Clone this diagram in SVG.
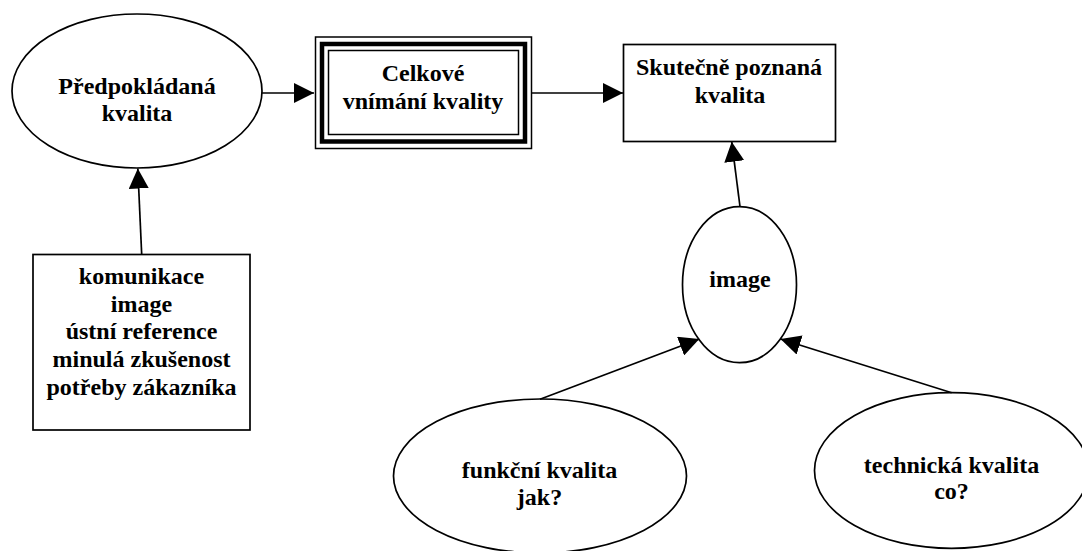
<svg xmlns="http://www.w3.org/2000/svg" width="1082" height="551" viewBox="0 0 1082 551">
<style>
.sh{fill:#fff;stroke:#000;stroke-width:1.7}
.t{font-family:"Liberation Serif","Times New Roman",serif;font-weight:bold;font-size:24px;fill:#000;text-anchor:middle}
.c{stroke:#000;stroke-width:1.7;fill:none;marker-end:url(#ah)}
</style>
<defs>
<marker id="ah" markerUnits="userSpaceOnUse" markerWidth="20" markerHeight="20" refX="20" refY="10" orient="auto" viewBox="0 0 20 20">
<path d="M0,0 L20,10 L0,20 z" fill="#000"/>
</marker>
</defs>
<rect width="1082" height="551" fill="#fff"/>
<g id="predpokladana">
<ellipse class="sh" cx="137" cy="91" rx="125" ry="77"/>
<text class="t" x="137" y="93.5">Předpokládaná</text>
<text class="t" x="137" y="121">kvalita</text>
</g>
<g id="celkove">
<rect x="315.5" y="37" width="216" height="111.5" fill="#fff" stroke="#000" stroke-width="1.5"/>
<rect x="322" y="44" width="203" height="97.5" fill="none" stroke="#000" stroke-width="4.5"/>
<rect x="328.5" y="50.5" width="190" height="84" fill="none" stroke="#000" stroke-width="1.5"/>
<text class="t" x="423" y="81">Celkové</text>
<text class="t" x="423" y="109">vnímání kvality</text>
</g>
<g id="skutecne">
<rect class="sh" x="623.5" y="44.5" width="212" height="97"/>
<text class="t" x="729" y="74.5">Skutečně poznaná</text>
<text class="t" x="730" y="102.5">kvalita</text>
</g>
<g id="komunikace">
<rect class="sh" x="33" y="254.5" width="217" height="175.5"/>
<text class="t" x="141.5" y="284">komunikace</text>
<text class="t" x="141.5" y="311.7">image</text>
<text class="t" x="141.5" y="339.4">ústní reference</text>
<text class="t" x="141.5" y="367.2">minulá zkušenost</text>
<text class="t" x="141.5" y="395">potřeby zákazníka</text>
</g>
<g id="image">
<ellipse class="sh" cx="739.5" cy="284.7" rx="57" ry="78"/>
<text class="t" x="740" y="287">image</text>
</g>
<g id="funkcni">
<ellipse class="sh" cx="540" cy="476" rx="146.5" ry="77"/>
<text class="t" x="539.5" y="477.5">funkční kvalita</text>
<text class="t" x="539.5" y="505">jak?</text>
</g>
<g id="technicka">
<ellipse class="sh" cx="951.5" cy="470.5" rx="137" ry="77.8"/>
<text class="t" x="951.5" y="473">technická kvalita</text>
<text class="t" x="951.5" y="498.5">co?</text>
</g>
<g id="connectors">
<line class="c" x1="262" y1="93" x2="314" y2="93"/>
<line class="c" x1="531.5" y1="93" x2="623" y2="93"/>
<line class="c" x1="141.7" y1="254.5" x2="137.8" y2="168.5"/>
<line class="c" x1="740" y1="206.7" x2="731.7" y2="141.7"/>
<line class="c" x1="540" y1="399.3" x2="699.3" y2="339"/>
<line class="c" x1="951.7" y1="392.7" x2="780.5" y2="339"/>
</g>
</svg>
